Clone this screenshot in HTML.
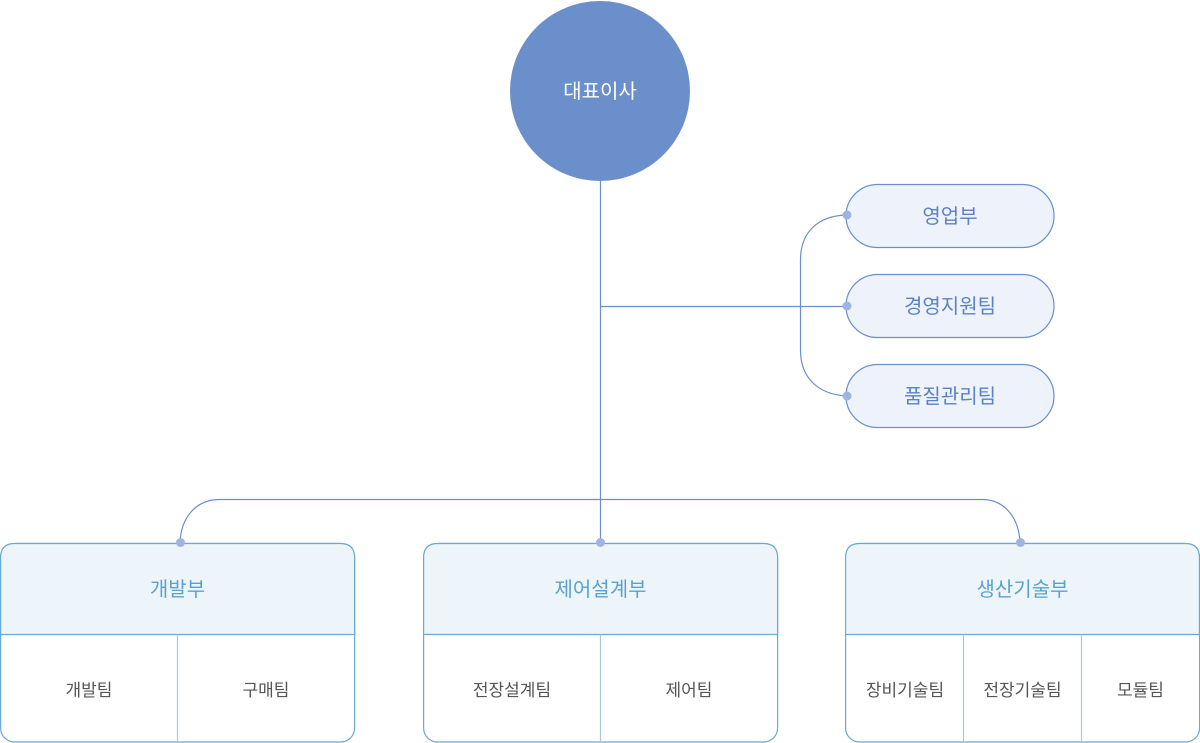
<!DOCTYPE html>
<html><head><meta charset="utf-8">
<style>
html,body{margin:0;padding:0;background:#fff;}
svg{display:block;}
text{font-family:"Liberation Sans","Noto Sans CJK KR","NanumGothic",sans-serif;}
</style></head>
<body>
<svg width="1200" height="743" viewBox="0 0 1200 743" xmlns="http://www.w3.org/2000/svg">
  <g fill="none" stroke="#6a8fcb" stroke-width="1.2">
    <line x1="600.5" y1="180" x2="600.5" y2="543"/>
    <line x1="600.5" y1="306.5" x2="846" y2="306.5"/>
    <path d="M846,215 C818,216 800.5,232 800.5,260 L800.5,350 C800.5,378 818,394 846,396"/>
    <path d="M180,543 C181,517 196,499.5 220,499.5 L982,499.5 C1004,499.5 1019,517 1020,543"/>
  </g>
  <circle cx="600" cy="91" r="90" fill="#6a8fcb"/>
  <text x="600" y="98" font-size="20" fill="#fff" text-anchor="middle">대표이사</text>
  <g fill="#eef2fa" stroke="#6a8fcb" stroke-width="1.2">
    <rect x="846" y="184.5" width="208" height="63" rx="31.5"/>
    <rect x="846" y="274.5" width="208" height="63" rx="31.5"/>
    <rect x="846" y="364.5" width="208" height="63" rx="31.5"/>
  </g>
  <g font-size="20" fill="#5b82c4" text-anchor="middle">
    <text x="950" y="223">영업부</text>
    <text x="950" y="313">경영지원팀</text>
    <text x="950" y="403">품질관리팀</text>
  </g>
  <g fill="#9fb5e0">
    <circle cx="847" cy="215" r="4.5"/>
    <circle cx="847" cy="306" r="4.5"/>
    <circle cx="847" cy="396" r="4.5"/>
  </g>
  <g stroke="#6aaad0" stroke-width="1.2">
    <g>
      <rect x="0.6" y="543.5" width="354" height="198.5" rx="14" fill="#fff"/>
      <path d="M0.6,634.5 L0.6,557.5 Q0.6,543.5 14.6,543.5 L340.5,543.5 Q354.6,543.5 354.6,557.5 L354.6,634.5 Z" fill="#eef5fa"/>
      <line x1="177.5" y1="634.5" x2="177.5" y2="742" stroke="#aac8dd"/>
    </g>
    <g>
      <rect x="423.6" y="543.5" width="354" height="198.5" rx="14" fill="#fff"/>
      <path d="M423.6,634.5 L423.6,557.5 Q423.6,543.5 437.6,543.5 L763.5,543.5 Q777.6,543.5 777.6,557.5 L777.6,634.5 Z" fill="#eef5fa"/>
      <line x1="600.5" y1="634.5" x2="600.5" y2="742" stroke="#aac8dd"/>
    </g>
    <g>
      <rect x="845.6" y="543.5" width="354" height="198.5" rx="14" fill="#fff"/>
      <path d="M845.6,634.5 L845.6,557.5 Q845.6,543.5 859.6,543.5 L1185.5,543.5 Q1199.4,543.5 1199.4,557.5 L1199.4,634.5 Z" fill="#eef5fa"/>
      <line x1="963.5" y1="634.5" x2="963.5" y2="742" stroke="#aac8dd"/>
      <line x1="1081.5" y1="634.5" x2="1081.5" y2="742" stroke="#aac8dd"/>
    </g>
  </g>
  <g fill="#9fb5e0">
    <circle cx="180.5" cy="542.5" r="4.5"/>
    <circle cx="600.5" cy="542.5" r="4.5"/>
    <circle cx="1020.5" cy="542.5" r="4.5"/>
  </g>
  <g font-size="20" fill="#5ba2cb" text-anchor="middle">
    <text x="177.5" y="596">개발부</text>
    <text x="600.5" y="596">제어설계부</text>
    <text x="1022.5" y="596">생산기술부</text>
  </g>
  <g font-size="17" fill="#555" text-anchor="middle">
    <text x="89" y="696">개발팀</text>
    <text x="266" y="696">구매팀</text>
    <text x="512" y="696">전장설계팀</text>
    <text x="689" y="696">제어팀</text>
    <text x="905" y="696">장비기술팀</text>
    <text x="1022.5" y="696">전장기술팀</text>
    <text x="1140.5" y="696">모듈팀</text>
  </g>
</svg>
</body></html>
